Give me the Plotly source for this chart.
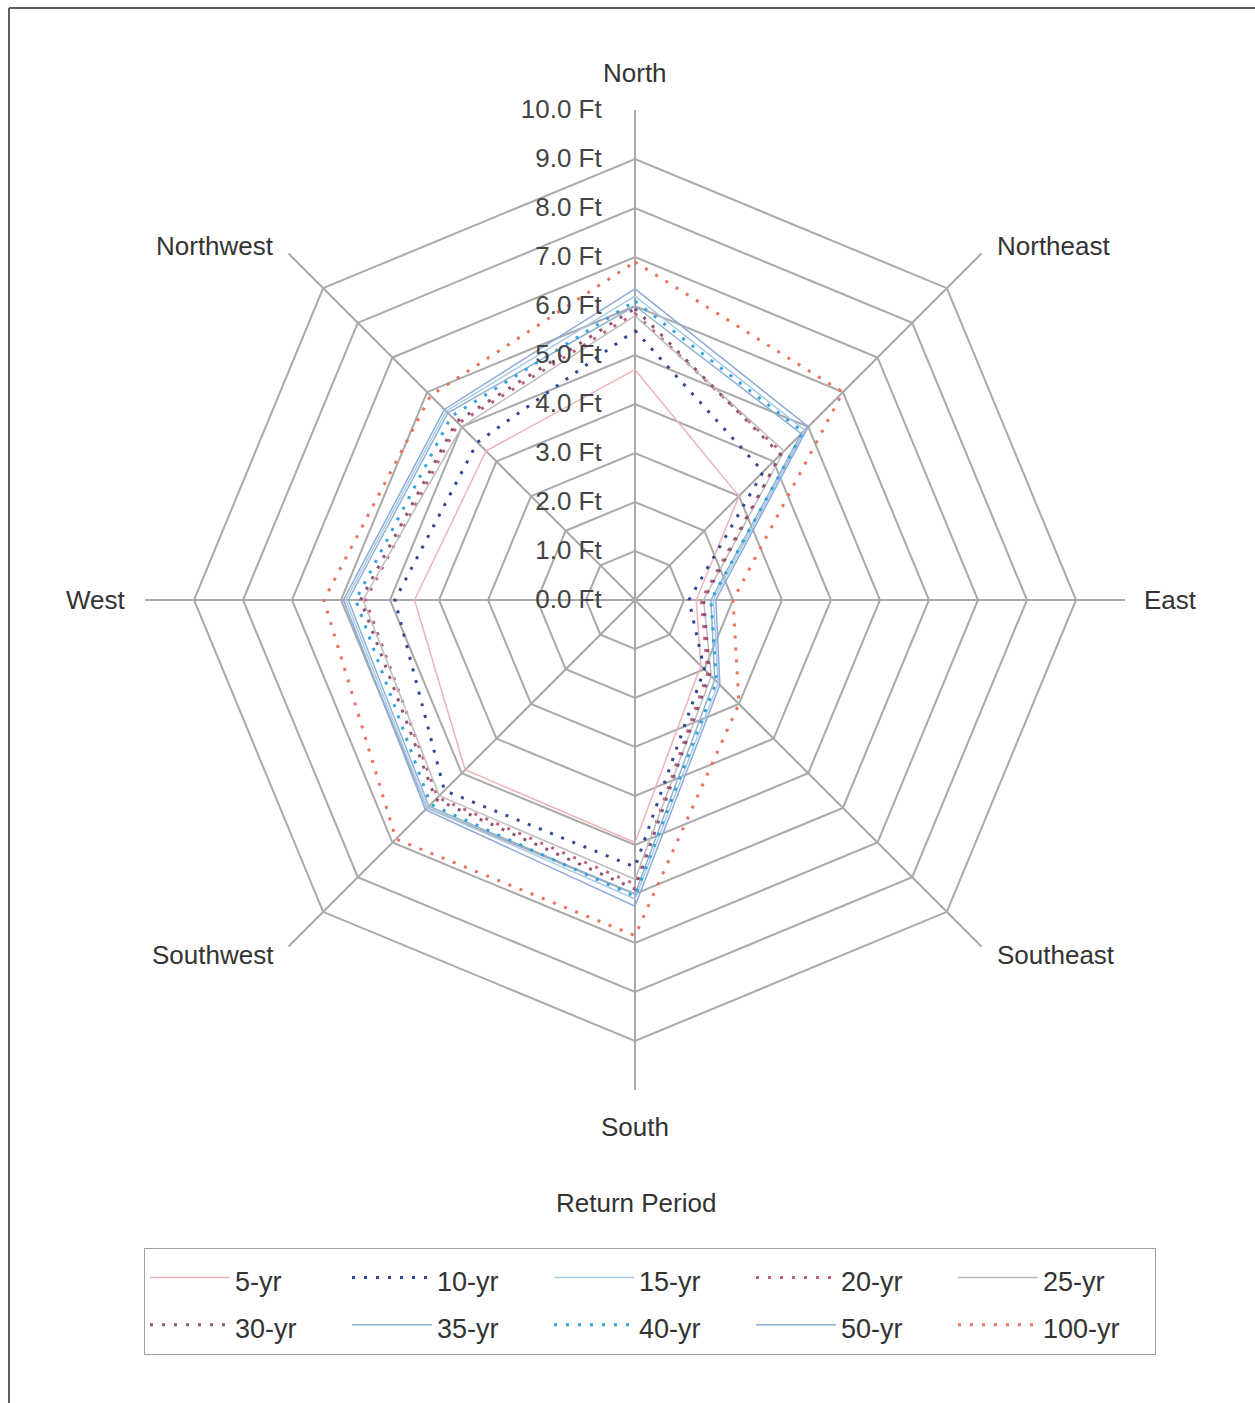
import math
import plotly.graph_objects as go

# Compass directions around the chart (clockwise from North)
directions = ["North", "Northeast", "East", "Southeast",
              "South", "Southwest", "West", "Northwest"]

# Wave height (ft) per direction for each return period
yr5 = [4.7, 3.0, 1.25, 1.9, 4.95, 4.9, 4.5, 4.3]
yr10 = [5.5, 3.7, 1.1, 2.0, 5.45, 5.5, 4.9, 4.55]
yr15 = [6.2, 4.9, 1.6, 2.4, 6.1, 6.0, 5.9, 5.45]
yr20 = [5.85, 4.25, 1.35, 2.1, 5.8, 5.7, 5.5, 5.1]
yr25 = [5.8, 4.3, 1.4, 2.2, 5.7, 5.65, 5.55, 5.0]
yr30 = [5.95, 4.2, 1.4, 2.15, 5.9, 5.75, 5.6, 5.15]
yr35 = [6.0, 4.8, 1.55, 2.3, 6.0, 5.95, 5.85, 5.4]
yr40 = [6.1, 4.85, 1.55, 2.35, 6.05, 5.9, 5.7, 5.3]
yr50 = [6.35, 5.0, 1.65, 2.45, 6.25, 6.05, 5.95, 5.5]
yr100 = [6.9, 6.0, 2.0, 3.0, 6.85, 6.9, 6.35, 5.9]

series_names = ["5-yr", "10-yr", "15-yr", "20-yr", "25-yr",
                "30-yr", "35-yr", "40-yr", "50-yr", "100-yr"]
series_values = [yr5, yr10, yr15, yr20, yr25, yr30, yr35, yr40, yr50, yr100]
series_colors = ["#efb2bb", "#2e4896", "#a6cbe8", "#c0647c", "#bdbdbd",
                 "#8c5474", "#92b2d0", "#35a2de", "#8eaad8", "#e8735e"]
series_dotted = [False, True, False, True, False, True, False, True, False, True]

radial_ticks = [0, 1, 2, 3, 4, 5, 6, 7, 8, 9, 10]
radial_labels = [f"{v:.1f} Ft" for v in radial_ticks]

W, H = 1255, 1403
ML, MR = 78, 77
PW = W - ML - MR

# polar area: centre and outer radius in page pixels
CX, CY, R = 635, 600, 490


def px(x):
    return (x - ML) / PW


def py(y):
    return (H - y) / H


fig = go.Figure()
for name, vals, color, dotted in zip(series_names, series_values,
                                     series_colors, series_dotted):
    fig.add_trace(go.Scatterpolar(
        r=vals + vals[:1],
        theta=directions + directions[:1],
        mode="lines",
        name='<span style="font-size:27px">' + name + '</span>',
        line=dict(color=color, width=3 if dotted else 1.5,
                  dash="3px,9px" if dotted else "solid"),
        hoverinfo="skip",
    ))

# direction labels placed just outside the octagon vertices
annotations = []
for i, label in enumerate(directions):
    ang = math.radians(90 - 45 * i)
    ux, uy = math.cos(ang), math.sin(ang)
    if abs(ux) < 1e-6:
        gap = 37
        xa = "center"
    elif abs(uy) < 1e-6:
        gap = 17
        xa = "left" if ux > 0 else "right"
    else:
        gap = 0
        xa = "left" if ux > 0 else "right"
    x = CX + (R + gap) * ux
    y = CY - (R + gap) * uy
    if abs(ux) > 1e-6 and abs(uy) > 1e-6:
        x += 14 if ux > 0 else -13
        y += -8 if uy > 0 else 9
    annotations.append(dict(
        text=label, xref="paper", yref="paper",
        x=px(x), y=py(y), xanchor=xa, yanchor="middle",
        showarrow=False, font=dict(size=26, color="#333333"),
    ))

annotations.append(dict(
    text="Return Period", xref="paper", yref="paper",
    x=px(636), y=py(1203), xanchor="center", yanchor="middle",
    showarrow=False, font=dict(size=26, color="#333333"),
))

pad = "\u00a0" * 4

fig.update_layout(
    width=W, height=H,
    margin=dict(l=ML, r=MR, t=0, b=0, autoexpand=False),
    paper_bgcolor="white",
    font=dict(family="Liberation Sans, Arial, sans-serif", size=26, color="#333333"),
    polar=dict(
        domain=dict(x=[px(CX - R), px(CX + R)], y=[py(CY + R), py(CY - R)]),
        bgcolor="white",
        gridshape="linear",
        angularaxis=dict(
            direction="clockwise", rotation=90,
            categoryorder="array", categoryarray=directions,
            showline=False, ticks="", showticklabels=False,
            gridcolor="#a9a9a9", gridwidth=1.5,
        ),
        radialaxis=dict(
            range=[0, 10], tickvals=radial_ticks,
            ticktext=[t + pad for t in radial_labels],
            angle=90, side="counterclockwise", tickangle=90,
            showline=False, ticks="",
            gridcolor="#a9a9a9", gridwidth=1.5,
            tickfont=dict(size=26, color="#444444"),
            layer="above traces",
        ),
    ),
    showlegend=True,
    legend=dict(
        orientation="h",
        x=px(144), y=py(1248), xanchor="left", yanchor="top",
        entrywidth=107, entrywidthmode="pixels",
        itemwidth=80,
        bordercolor="#a0a0a0", borderwidth=1, bgcolor="white",
        font=dict(size=34, color="#333333"),
        itemclick=False, itemdoubleclick=False,
    ),
    annotations=annotations,
    shapes=[
        dict(type="line", xref="paper", yref="paper",
             x0=px(9), x1=px(1255), y0=py(8), y1=py(8),
             line=dict(color="#56625a", width=2)),
        dict(type="line", xref="paper", yref="paper",
             x0=px(9), x1=px(9), y0=py(8), y1=py(1403),
             line=dict(color="#56625a", width=2)),
    ],
)

fig.write_html("out.html")
